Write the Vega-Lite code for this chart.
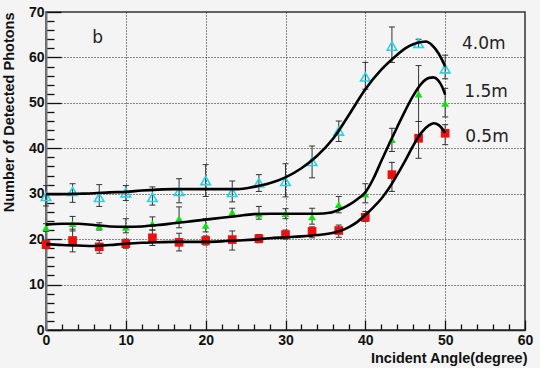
{
  "$schema": "https://vega.github.io/schema/vega-lite/v6.json",
  "autosize": {"type": "none"},
  "width": 479,
  "height": 318,
  "padding": {"left": 46, "top": 12, "right": 15, "bottom": 38},
  "background": "#f4f4f4",
  "config": {
    "view": {"stroke": "#333", "strokeWidth": 1.5},
    "font": "Liberation Sans",
    "axis": {
      "labelFont": "Liberation Sans",
      "labelFontWeight": "bold",
      "labelFontSize": 14,
      "labelColor": "#111",
      "titleFont": "Liberation Sans",
      "titleFontWeight": "bold",
      "titleFontSize": 14.5,
      "titleColor": "#111",
      "domainColor": "#222",
      "domainWidth": 1.5,
      "tickColor": "#111",
      "tickWidth": 1.3,
      "gridColor": "#000",
      "gridDash": [1, 2],
      "gridWidth": 1,
      "labelFlush": false,
      "labelOverlap": false
    }
  },
  "datasets": {
    "pts": [
      {"s": "4.0m", "x": 0, "y": 29.4, "lo": 27.3, "hi": 31.8},
      {"s": "4.0m", "x": 3.33, "y": 30.5, "lo": 28.1, "hi": 32.2},
      {"s": "4.0m", "x": 6.67, "y": 29.2, "lo": 27.2, "hi": 32.0},
      {"s": "4.0m", "x": 10, "y": 30.2, "lo": 28.5, "hi": 31.8},
      {"s": "4.0m", "x": 13.33, "y": 29.2, "lo": 27.5, "hi": 31.5},
      {"s": "4.0m", "x": 16.67, "y": 30.5, "lo": 28.0, "hi": 33.3},
      {"s": "4.0m", "x": 20, "y": 32.9, "lo": 29.4, "hi": 36.4},
      {"s": "4.0m", "x": 23.33, "y": 30.3, "lo": 28.2, "hi": 32.8},
      {"s": "4.0m", "x": 26.67, "y": 32.4, "lo": 30.5, "hi": 34.2},
      {"s": "4.0m", "x": 30, "y": 32.7, "lo": 29.3, "hi": 36.6},
      {"s": "4.0m", "x": 33.33, "y": 37.1, "lo": 33.5, "hi": 40.5},
      {"s": "4.0m", "x": 36.67, "y": 43.8, "lo": 41.5, "hi": 46.0},
      {"s": "4.0m", "x": 40, "y": 55.7, "lo": 53.0, "hi": 58.9},
      {"s": "4.0m", "x": 43.33, "y": 62.5, "lo": 58.9, "hi": 66.7},
      {"s": "4.0m", "x": 46.67, "y": 63.1, "lo": 62.2, "hi": 64.0},
      {"s": "4.0m", "x": 50, "y": 57.5, "lo": 55.3, "hi": 60.5},
      {"s": "1.5m", "x": 0, "y": 22.5, "lo": 21.7, "hi": 23.4},
      {"s": "1.5m", "x": 3.33, "y": 23.4, "lo": 21.8, "hi": 25.0},
      {"s": "1.5m", "x": 6.67, "y": 22.8, "lo": 22.0, "hi": 23.6},
      {"s": "1.5m", "x": 10, "y": 22.6, "lo": 21.4, "hi": 24.5},
      {"s": "1.5m", "x": 13.33, "y": 23.4, "lo": 22.0, "hi": 24.9},
      {"s": "1.5m", "x": 16.67, "y": 24.5, "lo": 22.5, "hi": 27.1},
      {"s": "1.5m", "x": 20, "y": 23.0, "lo": 21.6, "hi": 24.5},
      {"s": "1.5m", "x": 23.33, "y": 25.9, "lo": 24.9, "hi": 26.8},
      {"s": "1.5m", "x": 26.67, "y": 25.5, "lo": 24.4, "hi": 27.2},
      {"s": "1.5m", "x": 30, "y": 25.6, "lo": 24.5, "hi": 26.7},
      {"s": "1.5m", "x": 33.33, "y": 24.9, "lo": 23.3, "hi": 26.8},
      {"s": "1.5m", "x": 36.67, "y": 27.6, "lo": 25.8, "hi": 29.4},
      {"s": "1.5m", "x": 40, "y": 29.9, "lo": 28.0, "hi": 32.2},
      {"s": "1.5m", "x": 43.33, "y": 41.9, "lo": 39.3, "hi": 44.4},
      {"s": "1.5m", "x": 46.67, "y": 51.9, "lo": 45.9, "hi": 58.2},
      {"s": "1.5m", "x": 50, "y": 49.9, "lo": 46.9, "hi": 53.2},
      {"s": "0.5m", "x": 0, "y": 18.8, "lo": 17.9, "hi": 19.8},
      {"s": "0.5m", "x": 3.33, "y": 19.7, "lo": 17.2, "hi": 22.2},
      {"s": "0.5m", "x": 6.67, "y": 18.3, "lo": 16.9, "hi": 19.7},
      {"s": "0.5m", "x": 10, "y": 19.0, "lo": 18.0, "hi": 20.0},
      {"s": "0.5m", "x": 13.33, "y": 20.3, "lo": 18.6, "hi": 22.0},
      {"s": "0.5m", "x": 16.67, "y": 19.3, "lo": 17.4, "hi": 21.3},
      {"s": "0.5m", "x": 20, "y": 19.7, "lo": 18.7, "hi": 20.7},
      {"s": "0.5m", "x": 23.33, "y": 19.9, "lo": 17.6, "hi": 21.8},
      {"s": "0.5m", "x": 26.67, "y": 20.1, "lo": 19.2, "hi": 21.0},
      {"s": "0.5m", "x": 30, "y": 21.0, "lo": 20.0, "hi": 22.0},
      {"s": "0.5m", "x": 33.33, "y": 21.7, "lo": 20.3, "hi": 22.7},
      {"s": "0.5m", "x": 36.67, "y": 21.9, "lo": 20.4, "hi": 23.1},
      {"s": "0.5m", "x": 40, "y": 24.8, "lo": 23.9, "hi": 26.1},
      {"s": "0.5m", "x": 43.33, "y": 34.2, "lo": 30.5, "hi": 36.9},
      {"s": "0.5m", "x": 46.67, "y": 42.2, "lo": 37.8, "hi": 45.9},
      {"s": "0.5m", "x": 50, "y": 43.3, "lo": 40.8, "hi": 45.2}
    ],
    "curves": [
      {"s": "4.0m", "x": 0, "y": 29.9}, {"s": "4.0m", "x": 2, "y": 29.9}, {"s": "4.0m", "x": 4, "y": 30.0},
      {"s": "4.0m", "x": 6, "y": 30.1}, {"s": "4.0m", "x": 8, "y": 30.3}, {"s": "4.0m", "x": 10, "y": 30.4},
      {"s": "4.0m", "x": 12, "y": 30.7}, {"s": "4.0m", "x": 14, "y": 30.9}, {"s": "4.0m", "x": 16, "y": 31.0},
      {"s": "4.0m", "x": 18, "y": 31.0}, {"s": "4.0m", "x": 20, "y": 31.0}, {"s": "4.0m", "x": 22, "y": 31.0},
      {"s": "4.0m", "x": 24, "y": 31.0}, {"s": "4.0m", "x": 26, "y": 31.5}, {"s": "4.0m", "x": 28, "y": 32.3},
      {"s": "4.0m", "x": 30, "y": 33.6}, {"s": "4.0m", "x": 32, "y": 35.6}, {"s": "4.0m", "x": 34, "y": 38.4},
      {"s": "4.0m", "x": 36, "y": 42.2}, {"s": "4.0m", "x": 38, "y": 47.5}, {"s": "4.0m", "x": 40, "y": 53.0},
      {"s": "4.0m", "x": 42, "y": 57.3}, {"s": "4.0m", "x": 44, "y": 60.6}, {"s": "4.0m", "x": 45, "y": 62.0},
      {"s": "4.0m", "x": 46, "y": 62.9}, {"s": "4.0m", "x": 47, "y": 63.4}, {"s": "4.0m", "x": 47.6, "y": 63.5},
      {"s": "4.0m", "x": 48.3, "y": 62.8}, {"s": "4.0m", "x": 49.2, "y": 60.8}, {"s": "4.0m", "x": 50, "y": 58.0},
      {"s": "1.5m", "x": 0, "y": 23.2}, {"s": "1.5m", "x": 2, "y": 23.4}, {"s": "1.5m", "x": 4, "y": 23.4},
      {"s": "1.5m", "x": 6, "y": 23.1}, {"s": "1.5m", "x": 8, "y": 22.8}, {"s": "1.5m", "x": 10, "y": 22.7},
      {"s": "1.5m", "x": 12, "y": 22.8}, {"s": "1.5m", "x": 14, "y": 23.1}, {"s": "1.5m", "x": 16, "y": 23.5},
      {"s": "1.5m", "x": 18, "y": 23.9}, {"s": "1.5m", "x": 20, "y": 24.3}, {"s": "1.5m", "x": 22, "y": 24.7},
      {"s": "1.5m", "x": 24, "y": 25.1}, {"s": "1.5m", "x": 26, "y": 25.5}, {"s": "1.5m", "x": 28, "y": 25.6},
      {"s": "1.5m", "x": 30, "y": 25.6}, {"s": "1.5m", "x": 32, "y": 25.6}, {"s": "1.5m", "x": 34, "y": 25.6},
      {"s": "1.5m", "x": 35.5, "y": 25.8}, {"s": "1.5m", "x": 37, "y": 26.7}, {"s": "1.5m", "x": 38, "y": 27.6},
      {"s": "1.5m", "x": 39, "y": 28.8}, {"s": "1.5m", "x": 40, "y": 30.3}, {"s": "1.5m", "x": 41, "y": 33.3},
      {"s": "1.5m", "x": 42, "y": 37.2}, {"s": "1.5m", "x": 43, "y": 41.0}, {"s": "1.5m", "x": 44, "y": 44.7},
      {"s": "1.5m", "x": 45, "y": 48.3}, {"s": "1.5m", "x": 46, "y": 51.6}, {"s": "1.5m", "x": 47, "y": 54.2},
      {"s": "1.5m", "x": 48, "y": 55.5}, {"s": "1.5m", "x": 48.5, "y": 55.6}, {"s": "1.5m", "x": 49.1, "y": 55.0},
      {"s": "1.5m", "x": 49.6, "y": 53.6}, {"s": "1.5m", "x": 50, "y": 51.8},
      {"s": "0.5m", "x": 0, "y": 18.9}, {"s": "0.5m", "x": 2, "y": 18.7}, {"s": "0.5m", "x": 4, "y": 18.6},
      {"s": "0.5m", "x": 6, "y": 18.5}, {"s": "0.5m", "x": 8, "y": 18.7}, {"s": "0.5m", "x": 10, "y": 19.0},
      {"s": "0.5m", "x": 12, "y": 19.2}, {"s": "0.5m", "x": 14, "y": 19.3}, {"s": "0.5m", "x": 16, "y": 19.4},
      {"s": "0.5m", "x": 18, "y": 19.4}, {"s": "0.5m", "x": 20, "y": 19.4}, {"s": "0.5m", "x": 22, "y": 19.5},
      {"s": "0.5m", "x": 24, "y": 19.7}, {"s": "0.5m", "x": 26, "y": 19.9}, {"s": "0.5m", "x": 28, "y": 20.2},
      {"s": "0.5m", "x": 30, "y": 20.4}, {"s": "0.5m", "x": 32, "y": 20.6}, {"s": "0.5m", "x": 34, "y": 20.9},
      {"s": "0.5m", "x": 36, "y": 21.4}, {"s": "0.5m", "x": 37, "y": 21.9}, {"s": "0.5m", "x": 38, "y": 22.7},
      {"s": "0.5m", "x": 39, "y": 23.8}, {"s": "0.5m", "x": 40, "y": 25.3}, {"s": "0.5m", "x": 41, "y": 27.0},
      {"s": "0.5m", "x": 42, "y": 28.9}, {"s": "0.5m", "x": 43, "y": 31.3}, {"s": "0.5m", "x": 44, "y": 34.2},
      {"s": "0.5m", "x": 45, "y": 37.3}, {"s": "0.5m", "x": 46, "y": 40.6}, {"s": "0.5m", "x": 47, "y": 43.4},
      {"s": "0.5m", "x": 48, "y": 45.1}, {"s": "0.5m", "x": 48.6, "y": 45.5}, {"s": "0.5m", "x": 49.2, "y": 45.1},
      {"s": "0.5m", "x": 49.6, "y": 44.4}, {"s": "0.5m", "x": 50, "y": 43.4}
    ],
    "labels": [
      {"t": "4.0m", "x": 52.1, "y": 63.0},
      {"t": "1.5m", "x": 52.4, "y": 52.4},
      {"t": "0.5m", "x": 52.5, "y": 42.5},
      {"t": "b", "x": 5.8, "y": 64.3}
    ]
  },
  "encoding": {
    "x": {
      "field": "x", "type": "quantitative",
      "scale": {"domain": [0, 60], "nice": false, "zero": false},
      "axis": {
        "title": "Incident Angle(degree)",
        "values": [0, 2, 4, 6, 8, 10, 12, 14, 16, 18, 20, 22, 24, 26, 28, 30, 32, 34, 36, 38, 40, 42, 44, 46, 48, 50, 52, 54, 56, 58, 60],
        "labelExpr": "datum.value % 10 === 0 ? datum.label : ''",
        "tickSize": {"condition": {"test": "datum.value % 10 === 0", "value": -10}, "value": -6},
        "grid": true,
        "gridOpacity": {"condition": {"test": "datum.value % 10 === 0 && datum.value > 0 && datum.value < 60", "value": 0.9}, "value": 0},
        "labelPadding": 13,
        "titleAnchor": "end",
        "titleAlign": "right",
        "titleBaseline": "alphabetic",
        "titleX": 481,
        "titleY": 32.5
      }
    },
    "y": {
      "field": "y", "type": "quantitative",
      "scale": {"domain": [0, 70], "nice": false, "zero": false},
      "axis": {
        "title": "Number of Detected Photons",
        "values": [0, 2, 4, 6, 8, 10, 12, 14, 16, 18, 20, 22, 24, 26, 28, 30, 32, 34, 36, 38, 40, 42, 44, 46, 48, 50, 52, 54, 56, 58, 60, 62, 64, 66, 68, 70],
        "labelExpr": "datum.value % 10 === 0 ? datum.label : ''",
        "tickSize": {"condition": {"test": "datum.value % 10 === 0", "value": -15}, "value": -8},
        "grid": true,
        "gridOpacity": {"condition": {"test": "datum.value % 10 === 0 && datum.value > 0 && datum.value < 70", "value": 0.9}, "value": 0},
        "domainColor": "#777",
        "domainWidth": 2,
        "labelPadding": 17,
        "titleAnchor": "end",
        "titleAlign": "right",
        "titleAngle": -90,
        "titleBaseline": "top",
        "titleX": -44,
        "titleY": 0
      }
    }
  },
  "layer": [
    {
      "data": {"name": "pts"},
      "transform": [{"fold": ["lo"], "as": ["k", "y"]}],
      "mark": {"type": "rule", "color": "#333", "strokeWidth": 1},
      "encoding": {"y2": {"field": "hi"}}
    },
    {
      "data": {"name": "pts"},
      "transform": [{"fold": ["lo", "hi"], "as": ["k", "y"]}],
      "mark": {"type": "tick", "orient": "horizontal", "size": 6, "thickness": 1, "color": "#333", "opacity": 1}
    },
    {
      "data": {"name": "pts"},
      "transform": [{"filter": "datum.s === '4.0m'"}],
      "mark": {"type": "point", "shape": "triangle-up", "size": 90, "filled": false, "stroke": "#22d4e8", "strokeWidth": 1.6, "opacity": 1}
    },
    {
      "data": {"name": "pts"},
      "transform": [{"filter": "datum.s === '1.5m'"}],
      "mark": {"type": "point", "shape": "triangle-up", "size": 60, "filled": true, "color": "#10e010", "opacity": 1}
    },
    {
      "data": {"name": "pts"},
      "transform": [{"filter": "datum.s === '0.5m'"}],
      "mark": {"type": "square", "size": 75, "filled": true, "color": "#ee1010", "opacity": 1}
    },
    {
      "data": {"name": "curves"},
      "mark": {"type": "line", "color": "#000", "strokeWidth": 2.6, "interpolate": "monotone"},
      "encoding": {"detail": {"field": "s"}}
    },
    {
      "data": {"name": "labels"},
      "mark": {"type": "text", "align": "left", "baseline": "middle", "font": "DejaVu Sans", "fontSize": 17, "color": "#222"},
      "encoding": {"text": {"field": "t"}}
    }
  ]
}
